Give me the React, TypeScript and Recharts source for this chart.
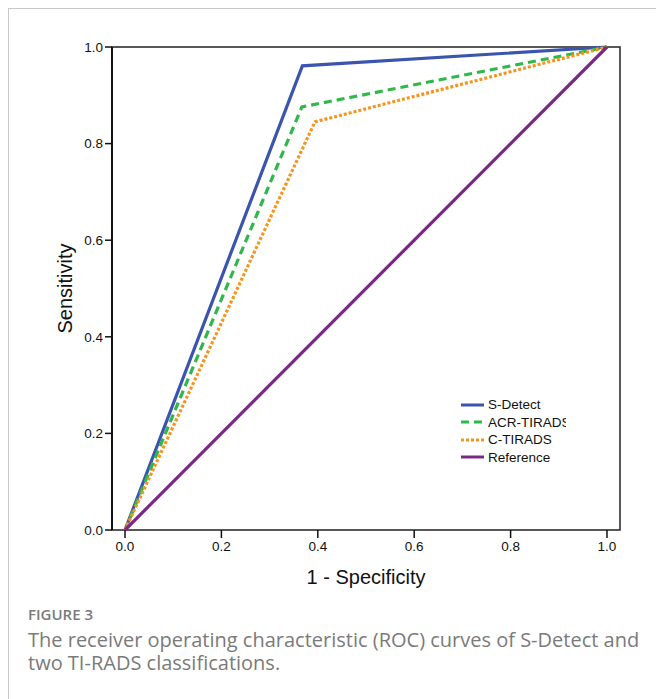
import React from 'react';
import {
  LineChart,
  Line,
  XAxis,
  YAxis,
  ReferenceArea,
} from 'recharts';

// ROC points (1 - specificity, sensitivity)
const sDetectX = [0, 0.368, 1];
const sDetectY = [0, 0.961, 1];
const acrX = [0, 0.367, 1];
const acrY = [0, 0.876, 1];
const cTiradsX = [0, 0.394, 1];
const cTiradsY = [0, 0.845, 1];
const refX = [0, 1];
const refY = [0, 1];

const ticks = [0, 0.2, 0.4, 0.6, 0.8, 1];

const toPoints = (xs: number[], ys: number[]) => xs.map((x, i) => ({ x, y: ys[i] }));

const series = [
  { name: 'S-Detect', data: toPoints(sDetectX, sDetectY), color: '#3b55ae', dash: undefined },
  { name: 'ACR-TIRADS', data: toPoints(acrX, acrY), color: '#2db84a', dash: '8 5' },
  { name: 'C-TIRADS', data: toPoints(cTiradsX, cTiradsY), color: '#f7941d', dash: '3 2' },
  { name: 'Reference', data: toPoints(refX, refY), color: '#7a2886', dash: undefined },
];

const FONT = '"Liberation Sans", Arial, sans-serif';

// legend box is narrow in the original, so "ACR-TIRADS" gets clipped there too
const RocLegend = () => (
  <div
    style={{
      position: 'absolute',
      left: 451,
      top: 387,
      width: 106,
      overflow: 'hidden',
      fontFamily: FONT,
      fontSize: 13.5,
      color: '#111',
    }}
  >
    {series.map((s) => (
      <div key={s.name} style={{ display: 'flex', alignItems: 'center', height: 17.5, whiteSpace: 'nowrap' }}>
        <svg width={28} height={6} style={{ flex: 'none' }}>
          <line x1={1} y1={3} x2={24} y2={3} stroke={s.color} strokeWidth={3} strokeDasharray={s.dash} />
        </svg>
        <span>{s.name}</span>
      </div>
    ))}
  </div>
);

export default function App() {
  return (
    <div
      style={{
        width: 655,
        height: 690,
        borderTop: '1px solid #c8c8c8',
        borderLeft: '1px solid #c8c8c8',
        position: 'relative',
      }}
    >
      <LineChart
        width={640}
        height={590}
        margin={{ top: 38, right: 29, bottom: 9, left: 0 }}
      >
        <XAxis
          type="number"
          dataKey="x"
          domain={[-0.027, 1.027]}
          allowDataOverflow
          ticks={ticks}
          tickFormatter={(v: number) => v.toFixed(1)}
          axisLine={false}
          tickLine={{ stroke: '#111', strokeWidth: 1.5 }}
          tickSize={8}
          tickMargin={3}
          height={60}
          tick={{ fontFamily: FONT, fontSize: 13.5, fill: '#111' }}
          label={({ viewBox }: any) => (
            <text
              x={viewBox.x + viewBox.width / 2}
              y={viewBox.y + 47}
              textAnchor="middle"
              dominantBaseline="central"
              fontFamily={FONT}
              fontSize={20}
              fill="#111"
            >
              1 - Specificity
            </text>
          )}
        />
        <YAxis
          type="number"
          dataKey="y"
          domain={[0, 1]}
          ticks={ticks}
          tickFormatter={(v: number) => v.toFixed(1)}
          width={103}
          axisLine={{ stroke: '#111', strokeWidth: 2 }}
          tickLine={{ stroke: '#111', strokeWidth: 1.5 }}
          tickSize={7}
          tickMargin={2}
          tick={{ fontFamily: FONT, fontSize: 13.5, fill: '#111' }}
          label={({ viewBox }: any) => (
            <text
              x={viewBox.x + 56}
              y={viewBox.y + viewBox.height / 2}
              textAnchor="middle"
              dominantBaseline="central"
              fontFamily={FONT}
              fontSize={20}
              fill="#111"
              transform={`rotate(-90, ${viewBox.x + 56}, ${viewBox.y + viewBox.height / 2})`}
            >
              Sensitivity
            </text>
          )}
        />
        <ReferenceArea
          x1={-0.027}
          x2={1.027}
          y1={0}
          y2={1}
          fill="none"
          stroke="#222"
          strokeWidth={1.5}
          ifOverflow="visible"
        />
        {series.map((s) => (
          <Line
            key={s.name}
            data={s.data}
            dataKey="y"
            name={s.name}
            type="linear"
            stroke={s.color}
            strokeWidth={3.2}
            strokeDasharray={s.dash}
            dot={false}
            activeDot={false}
            isAnimationActive={false}
          />
        ))}
      </LineChart>
      <RocLegend />
      <div
        style={{
          position: 'absolute',
          left: 19,
          top: 596,
          fontFamily: '"Open Sans", sans-serif',
          color: '#7a7a7a',
        }}
      >
        <div style={{ fontSize: 15, fontWeight: 600, lineHeight: '18px' }}>FIGURE 3</div>
        <div style={{ fontSize: 20, lineHeight: '23px', marginTop: 5, width: 636, whiteSpace: 'nowrap' }}>
          The receiver operating characteristic (ROC) curves of S-Detect and
          <br />
          two TI-RADS classifications.
        </div>
      </div>
    </div>
  );
}
